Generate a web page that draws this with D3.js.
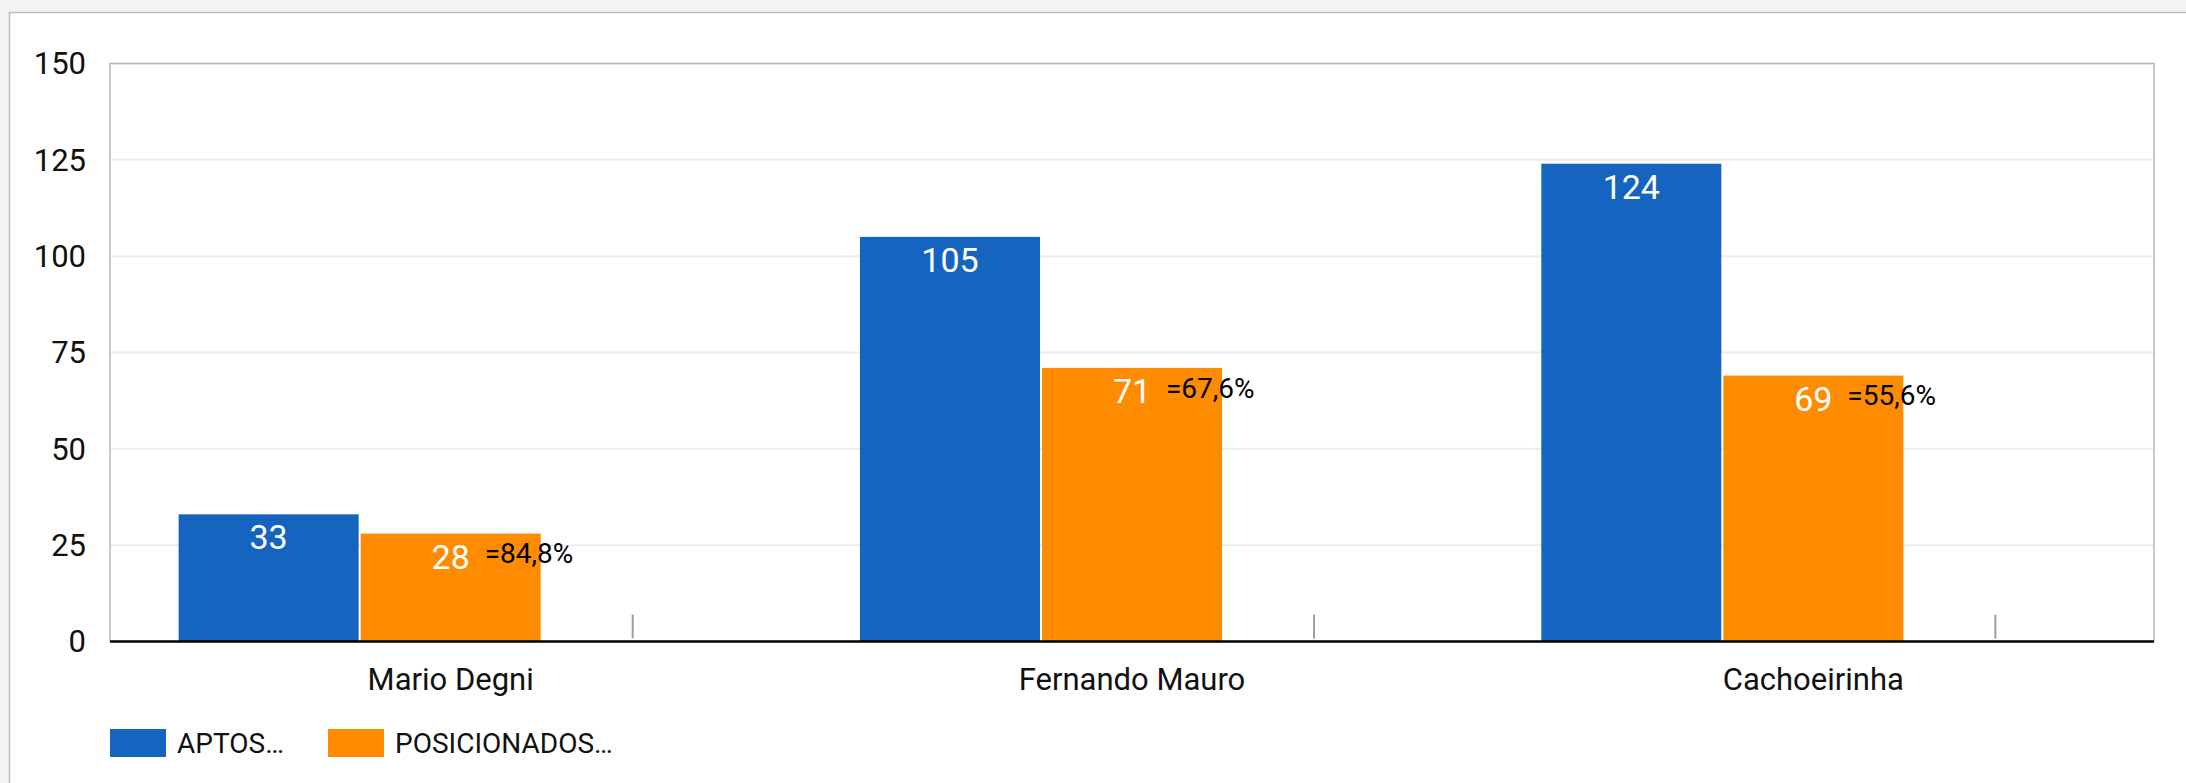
<!DOCTYPE html>
<html>
<head>
<meta charset="utf-8">
<script src="https://cdn.jsdelivr.net/npm/d3@7"></script>
<style>
  html, body { margin: 0; padding: 0; background: #f3f3f3; overflow: hidden; }
  svg { display: block; font-family: Roboto, "Noto Sans", sans-serif; }
</style>
</head>
<body>
<div id="chart"></div>
<script>
// chart size
const width = 2186
const height = 783
const margin = { left: 110, right: 32, top: 63.5, bottom: 141.5 }

// data
const categories = ["Mario Degni", "Fernando Mauro", "Cachoeirinha"]
const aptos = [33, 105, 124]
const posicionados = [28, 71, 69]
const percentLabels = ["=84,8%", "=67,6%", "=55,6%"]
const markerValues = [7, 7, 7]   // third (grey) series
const seriesNames = ["APTOS…", "POSICIONADOS…"]
const yTicks = [0, 25, 50, 75, 100, 125, 150]

const colors = ["#1565c0", "#ff8c00"]

const svg = d3.select("#chart")
  .append("svg")
  .attr("width", width)
  .attr("height", height)

// white card behind the chart
svg.append("rect")
  .attr("x", 9.5)
  .attr("y", 12.5)
  .attr("width", width)
  .attr("height", height)
  .attr("fill", "#fff")
  .attr("stroke", "#bdbdbd")
  .attr("stroke-width", 1.5)

const x0 = d3.scaleBand()
  .domain(categories)
  .range([margin.left, width - margin.right])

const x1 = d3.scaleBand()
  .domain(["aptos", "pos", "marker"])
  .range([0, x0.bandwidth()])
  .paddingInner(0.011)
  .paddingOuter(0.377)

const y = d3.scaleLinear()
  .domain([0, 150])
  .range([height - margin.bottom, margin.top])

// gridlines
svg.append("g")
  .selectAll("line")
  .data(yTicks.slice(1))
  .enter().append("line")
    .attr("x1", margin.left)
    .attr("x2", width - margin.right)
    .attr("y1", d => y(d))
    .attr("y2", d => y(d))
    .attr("stroke", "#ececec")
    .attr("stroke-width", 2)

// plot frame
svg.append("path")
  .attr("d", `M${margin.left},${y(0)}V${y(150)}H${width - margin.right}V${y(0)}`)
  .attr("fill", "none")
  .attr("stroke", "#b8b8b8")
  .attr("stroke-width", 1.5)

// y axis labels
svg.append("g")
  .selectAll("text")
  .data(yTicks)
  .enter().append("text")
    .attr("x", 86)
    .attr("y", d => y(d))
    .attr("dy", "0.35em")
    .attr("text-anchor", "end")
    .style("font-size", "31px")
    .attr("fill", "#111")
    .text(d => d)

// bars
const rows = categories.map((c, i) => ({
  cat: c, aptos: aptos[i], pos: posicionados[i], pct: percentLabels[i], marker: markerValues[i]
}))

const group = svg.append("g")
  .selectAll("g")
  .data(rows)
  .enter().append("g")
    .attr("transform", d => "translate(" + x0(d.cat) + ",0)")

group.append("rect")
  .attr("x", x1("aptos"))
  .attr("y", d => y(d.aptos))
  .attr("width", x1.bandwidth())
  .attr("height", d => y(0) - y(d.aptos))
  .attr("fill", colors[0])

group.append("rect")
  .attr("x", x1("pos"))
  .attr("y", d => y(d.pos))
  .attr("width", x1.bandwidth())
  .attr("height", d => y(0) - y(d.pos))
  .attr("fill", colors[1])

// grey marker series
group.append("line")
  .attr("x1", x1("marker") + x1.bandwidth() / 2)
  .attr("x2", x1("marker") + x1.bandwidth() / 2)
  .attr("y1", d => y(d.marker))
  .attr("y2", y(0) - 3)
  .attr("stroke", "#9e9e9e")
  .attr("stroke-width", 2)

// value labels
group.append("text")
  .attr("x", x1("aptos") + x1.bandwidth() / 2)
  .attr("y", d => y(d.aptos) + 23)
  .attr("dy", "0.35em")
  .attr("text-anchor", "middle")
  .attr("fill", "#fff")
  .style("font-size", "34px")
  .text(d => d.aptos)

group.append("text")
  .attr("x", x1("pos") + x1.bandwidth() / 2)
  .attr("y", d => y(d.pos) + 23)
  .attr("dy", "0.35em")
  .attr("text-anchor", "middle")
  .attr("fill", "#fff")
  .style("font-size", "34px")
  .text(d => d.pos)

group.append("text")
  .attr("x", x1("pos") + x1.bandwidth() / 2 + 34)
  .attr("y", d => y(d.pos) + 20)
  .attr("dy", "0.35em")
  .attr("fill", "#000")
  .style("font-size", "28px")
  .text(d => d.pct)

// baseline
svg.append("line")
  .attr("x1", margin.left)
  .attr("x2", width - margin.right)
  .attr("y1", y(0))
  .attr("y2", y(0))
  .attr("stroke", "#000")
  .attr("stroke-width", 2.5)

// category labels
svg.append("g")
  .selectAll("text")
  .data(categories)
  .enter().append("text")
    .attr("x", d => x0(d) + x0.bandwidth() / 2)
    .attr("y", 690)
    .attr("text-anchor", "middle")
    .style("font-size", "31px")
    .attr("fill", "#111")
    .text(d => d)

// legend
const legendX = [110, 328]
const legend = svg.append("g")
  .selectAll("g")
  .data(seriesNames)
  .enter().append("g")
    .attr("transform", (d, i) => "translate(" + legendX[i] + ",729)")

legend.append("rect")
  .attr("width", 56)
  .attr("height", 28)
  .attr("fill", (d, i) => colors[i])

legend.append("text")
  .attr("x", 67)
  .attr("y", 24)
  .style("font-size", "28px")
  .attr("fill", "#111")
  .text(d => d)
</script>
</body>
</html>
